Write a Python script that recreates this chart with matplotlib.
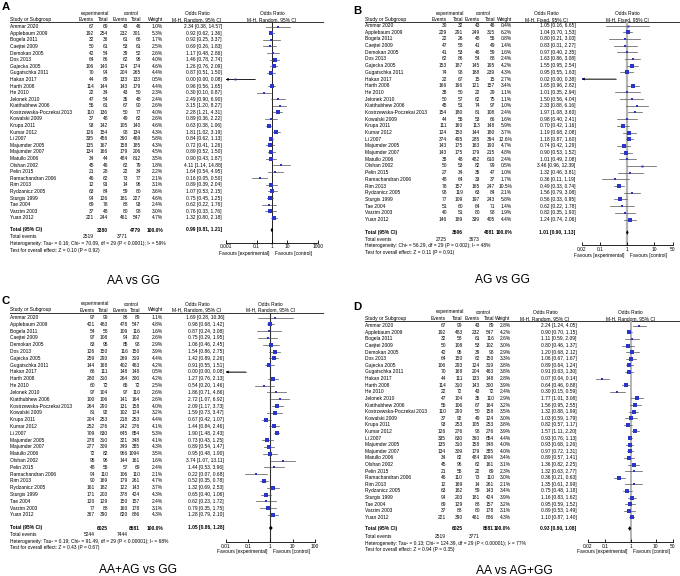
import matplotlib
matplotlib.use('Agg')
import matplotlib.pyplot as plt
from matplotlib import font_manager
from matplotlib.ticker import NullLocator
import numpy as np

W, H = 680, 576

# pick a narrow Arial-like face if there is one (the reference text is tall and narrow)
try:
    font_manager.findfont('Liberation Sans Narrow', fallback_to_default=False)
    FONT, K = 'Liberation Sans Narrow', 1.0
except ValueError:
    FONT, K = 'Liberation Sans', 0.82
plt.rcParams['font.family'] = [FONT, 'Liberation Sans', 'DejaVu Sans']

FS = 4.3 * K        # table text
FS_TITLE = 10.5 * K
FS_LETTER = 10 * K

studies = ['Ammar 2020', 'Applebaum 2009', 'Bogela 2011', 'Caejtei 2009', 'Demokan 2005',
           'Dos 2013', 'Gajecka 2005', 'Gugatschka 2011', 'Hakan 2017', 'Harth 2008',
           'He 2010', 'Jelonek 2010', 'Kiatthubhew 2006', 'Kostrzewska-Poczekai 2013',
           'Kowalski 2009', 'Krupa 2011', 'Kumar 2012', 'Li 2007', 'Majumder 2005',
           'Majumder 2007', 'Matullo 2006', 'Olshan 2002', 'Pelin 2015', 'Ramachandran 2006',
           'Rim 2013', 'Rydzanicz 2005', 'Sturgis 1999', 'Tae 2004', 'Varzim 2003', 'Yuan 2012']

# ---- A: AA vs GG ----
a_exp_ev = [67, 192, 32, 50, 42, 64, 106, 70, 44, 114, 22, 47, 55, 110, 37, 93, 126, 335, 135, 134, 34, 45, 21, 46, 12, 63, 94, 69, 37, 221]
a_exp_tot = [69, 254, 36, 61, 54, 86, 140, 94, 89, 144, 34, 54, 61, 136, 48, 142, 154, 456, 167, 166, 44, 46, 28, 62, 91, 84, 126, 78, 48, 244]
a_ctl_ev = [43, 232, 61, 53, 39, 62, 124, 204, 133, 143, 43, 35, 67, 50, 49, 105, 98, 360, 158, 179, 484, 62, 22, 73, 14, 59, 181, 88, 80, 461]
a_ctl_tot = [46, 301, 66, 61, 52, 96, 174, 265, 133, 179, 50, 48, 90, 77, 62, 140, 134, 469, 185, 206, 812, 79, 34, 77, 96, 80, 227, 93, 98, 547]
a_weight = [1.0, 5.3, 1.7, 2.5, 2.6, 4.0, 4.6, 4.4, 0.5, 4.4, 2.3, 2.4, 2.6, 4.0, 2.6, 4.6, 4.3, 5.8, 4.3, 4.5, 3.5, 1.8, 2.2, 2.1, 3.1, 3.6, 4.6, 2.4, 3.0, 4.7]
a_or = [2.34, 0.92, 0.92, 0.69, 1.17, 1.46, 1.26, 0.87, 0.004, 0.96, 0.30, 2.49, 3.15, 2.28, 0.89, 0.63, 1.81, 0.84, 0.72, 0.89, 0.90, 4.11, 1.64, 0.16, 0.89, 1.07, 0.75, 0.62, 0.76, 1.32]
a_lo = [0.38, 0.62, 0.25, 0.26, 0.48, 0.78, 0.76, 0.51, 0.0002, 0.56, 0.10, 0.90, 1.20, 1.21, 0.36, 0.38, 1.02, 0.62, 0.41, 0.52, 0.43, 1.14, 0.54, 0.05, 0.39, 0.53, 0.45, 0.22, 0.33, 0.80]
a_hi = [14.57, 1.36, 3.37, 1.83, 2.86, 2.74, 2.09, 1.50, 0.08, 1.65, 0.87, 6.90, 8.27, 4.31, 2.22, 1.06, 3.19, 1.13, 1.26, 1.50, 1.87, 14.88, 4.95, 0.50, 2.04, 2.15, 1.25, 1.76, 1.76, 2.18]
a_total = [3380, 4779]
a_events = [2519, 3771]
a_pooled = [0.99, 0.81, 1.21]
a_notes = ['Heterogeneity: Tau\u00b2 = 0.16; Chi\u00b2 = 70.09, df = 29 (P < 0.0001); I\u00b2 = 59%',
           'Test for overall effect: Z = 0.10 (P = 0.92)']

# ---- B: AG vs GG ----
b_exp_ev = [30, 229, 22, 47, 41, 62, 153, 74, 22, 166, 38, 50, 45, 154, 44, 111, 124, 374, 143, 143, 38, 50, 27, 48, 78, 98, 77, 51, 40, 146]
b_exp_tot = [32, 291, 26, 58, 53, 86, 187, 98, 67, 196, 50, 57, 51, 180, 55, 160, 150, 495, 175, 175, 48, 53, 34, 64, 157, 119, 109, 60, 51, 189]
b_ctl_ev = [43, 249, 48, 41, 46, 54, 145, 188, 15, 121, 22, 62, 74, 81, 53, 113, 144, 285, 163, 179, 482, 82, 35, 33, 165, 63, 197, 64, 80, 339]
b_ctl_tot = [46, 315, 55, 49, 59, 88, 195, 239, 15, 157, 29, 75, 97, 108, 66, 148, 180, 394, 190, 215, 610, 99, 47, 37, 247, 84, 243, 71, 98, 405]
b_weight = [0.4, 6.2, 0.8, 1.4, 1.6, 2.4, 4.2, 4.3, 2.7, 3.4, 1.1, 1.1, 1.0, 2.4, 1.6, 5.9, 3.7, 12.6, 4.7, 4.8, 2.4, 0.5, 1.0, 1.7, 10.5, 2.1, 5.8, 1.4, 1.9, 4.4]
b_or = [1.05, 1.04, 0.80, 0.83, 0.97, 1.63, 1.55, 0.95, 0.02, 1.65, 1.01, 1.50, 2.33, 1.97, 0.98, 0.70, 1.19, 1.18, 0.74, 0.90, 1.01, 3.46, 1.32, 0.36, 0.49, 1.56, 0.56, 0.62, 0.82, 1.24]
b_lo = [0.16, 0.70, 0.21, 0.31, 0.40, 0.86, 0.95, 0.55, 0.001, 0.96, 0.35, 0.56, 0.88, 1.08, 0.40, 0.42, 0.68, 0.87, 0.42, 0.53, 0.49, 0.96, 0.46, 0.11, 0.33, 0.79, 0.33, 0.22, 0.35, 0.74]
b_hi = [6.65, 1.53, 3.03, 2.27, 2.35, 3.08, 2.54, 1.63, 0.38, 2.82, 2.94, 4.04, 6.16, 3.60, 2.41, 1.16, 2.08, 1.60, 1.29, 1.52, 2.08, 12.39, 3.81, 1.19, 0.74, 3.08, 0.95, 1.78, 1.90, 2.06]
b_total = [3506, 4681]
b_events = [2725, 3673]
b_pooled = [1.01, 0.90, 1.13]
b_notes = ['Heterogeneity: Chi\u00b2 = 56.29, df = 29 (P = 0.002); I\u00b2 = 48%',
           'Test for overall effect: Z = 0.11 (P = 0.91)']

# ---- C: AA+AG vs GG ----
c_exp_ev = [97, 421, 54, 97, 83, 126, 259, 144, 66, 280, 60, 97, 100, 264, 81, 204, 252, 709, 278, 277, 72, 95, 48, 94, 90, 161, 171, 120, 77, 367]
c_exp_tot = [99, 483, 58, 108, 95, 150, 293, 168, 111, 310, 72, 104, 106, 290, 92, 253, 276, 830, 310, 309, 82, 96, 55, 110, 169, 182, 203, 129, 88, 390]
c_ctl_ev = [86, 478, 109, 94, 85, 116, 269, 402, 148, 264, 65, 97, 141, 131, 102, 218, 242, 645, 321, 349, 966, 144, 57, 106, 179, 122, 378, 150, 160, 820]
c_ctl_tot = [89, 547, 116, 102, 98, 150, 319, 463, 148, 300, 72, 110, 164, 158, 124, 253, 276, 854, 348, 385, 1094, 161, 69, 110, 261, 143, 424, 157, 178, 886]
c_weight = [1.1, 4.8, 1.6, 2.6, 2.9, 3.9, 4.4, 4.2, 0.5, 4.2, 2.5, 2.6, 2.6, 4.0, 3.2, 4.4, 4.1, 5.3, 4.1, 4.3, 3.5, 1.6, 2.4, 2.1, 4.7, 3.7, 4.3, 2.4, 3.1, 4.3]
c_or = [1.69, 0.98, 0.87, 0.75, 1.06, 1.54, 1.42, 0.91, 0.004, 1.27, 0.54, 1.86, 2.72, 2.09, 1.59, 0.67, 1.44, 1.90, 0.73, 0.89, 0.95, 3.74, 1.44, 0.22, 0.52, 1.32, 0.65, 0.62, 0.79, 1.28]
c_lo = [0.28, 0.68, 0.24, 0.29, 0.46, 0.86, 0.89, 0.55, 0.0002, 0.76, 0.20, 0.71, 1.07, 1.17, 0.73, 0.42, 0.84, 1.48, 0.43, 0.54, 0.48, 1.07, 0.53, 0.07, 0.35, 0.69, 0.40, 0.23, 0.35, 0.79]
c_hi = [10.36, 1.42, 3.08, 1.95, 2.45, 2.75, 2.26, 1.51, 0.08, 2.13, 1.46, 4.86, 6.92, 3.73, 3.47, 1.07, 2.46, 2.43, 1.25, 1.47, 1.90, 13.11, 3.96, 0.68, 0.78, 2.53, 1.06, 1.72, 1.75, 2.10]
c_total = [6025, 8581]
c_events = [5244, 7444]
c_pooled = [1.05, 0.86, 1.28]
c_notes = ['Heterogeneity: Tau\u00b2 = 0.19; Chi\u00b2 = 91.49, df = 29 (P < 0.00001); I\u00b2 = 68%',
           'Test for overall effect: Z = 0.43 (P = 0.67)']

# ---- D: AA vs AG+GG ----
d_exp_ev = [67, 192, 32, 50, 42, 64, 106, 70, 44, 114, 22, 47, 55, 110, 37, 93, 126, 335, 135, 134, 34, 45, 21, 46, 12, 63, 94, 69, 37, 221]
d_exp_tot = [99, 483, 58, 108, 95, 150, 293, 168, 111, 310, 72, 104, 106, 290, 92, 253, 276, 830, 310, 309, 82, 96, 55, 110, 169, 182, 203, 129, 88, 390]
d_ctl_ev = [43, 232, 61, 53, 39, 62, 124, 204, 133, 143, 43, 35, 67, 50, 49, 105, 98, 360, 158, 179, 484, 62, 22, 73, 14, 59, 181, 88, 80, 461]
d_ctl_tot = [89, 547, 116, 102, 98, 150, 319, 463, 148, 300, 72, 110, 164, 158, 124, 253, 276, 854, 348, 385, 1094, 161, 69, 110, 261, 143, 424, 157, 178, 886]
d_weight = [2.8, 4.2, 2.6, 3.0, 2.9, 3.3, 3.8, 3.8, 2.8, 3.9, 2.4, 2.9, 3.2, 3.5, 3.0, 3.8, 3.9, 4.4, 4.0, 4.0, 3.4, 3.1, 2.3, 3.0, 2.1, 3.4, 3.9, 3.2, 3.1, 4.3]
d_or = [2.24, 0.90, 1.11, 0.80, 1.20, 1.06, 0.89, 0.91, 0.07, 0.64, 0.30, 1.77, 1.56, 1.32, 1.03, 0.82, 1.57, 0.93, 0.93, 0.97, 0.89, 1.36, 1.32, 0.36, 1.35, 0.75, 1.16, 0.95, 0.89, 1.10]
d_lo = [1.24, 0.70, 0.59, 0.46, 0.68, 0.67, 0.64, 0.63, 0.04, 0.46, 0.15, 1.01, 0.95, 0.88, 0.59, 0.57, 1.11, 0.76, 0.68, 0.72, 0.57, 0.82, 0.63, 0.21, 0.61, 0.48, 0.83, 0.59, 0.53, 0.87]
d_hi = [4.05, 1.15, 2.09, 1.37, 2.12, 1.67, 1.24, 1.30, 0.14, 0.88, 0.59, 3.08, 2.55, 1.99, 1.79, 1.17, 2.20, 1.13, 1.26, 1.31, 1.41, 2.25, 2.77, 0.63, 2.99, 1.18, 1.62, 1.52, 1.49, 1.40]
d_total = [6025, 8581]
d_events = [2519, 3771]
d_pooled = [0.93, 0.80, 1.08]
d_notes = ['Heterogeneity: Tau\u00b2 = 0.13; Chi\u00b2 = 124.39, df = 29 (P < 0.00001); I\u00b2 = 77%',
           'Test for overall effect: Z = 0.94 (P = 0.35)']

# ---- layout (pixels from the top-left corner of the figure) ----
lay_a = dict(x0=0, letter='A', lx=2, ly=7.5, h1=13.3, h2=19.3, uline=22, row0=26.7, dy=6.59,
             total=230, events=237, het=243.7, test=250.3, axis=242.7, tick=248, fav=254,
             title='AA vs GG', tx=133, ty=281, method='M-H, Random, 95% CI',
             study=10, ee=94, et=108, ce=128, ct=141, w=163, orr=222, exp_c=95, ctl_c=131, orh=197,
             ax_l=225.7, ax_r=318.3, uline_r=323, xlim=(0.001, 1000),
             ticks=[0.001, 0.1, 1, 10, 1000], ticklabels=['0.001', '0.1', '1', '10', '1000'],
             vcol='#222222', vlw=0.7)
lay_b = dict(x0=340, letter='B', lx=13, ly=11, h1=13.3, h2=19.3, uline=21.7, row0=25.5, dy=6.69,
             total=232.5, events=239.3, het=246, test=252.7, axis=245, tick=250, fav=256,
             title='AG vs GG', tx=162, ty=280, method='M-H, Fixed, 95% CI',
             study=25, ee=107, et=123, ce=140, ct=155, w=172, orr=235.7, exp_c=110, ctl_c=143, orh=206,
             ax_l=241.7, ax_r=332.7, uline_r=340, xlim=(0.02, 50),
             ticks=[0.02, 0.1, 1, 10, 50], ticklabels=['0.02', '0.1', '1', '10', '50'],
             vcol='#b4b4b4', vlw=1.6)
lay_c = dict(x0=0, letter='C', lx=2, ly=300.5, h1=304, h2=310, uline=312.5, row0=317.5, dy=6.81,
             total=528, events=534.7, het=541.3, test=548, axis=542, tick=546.5, fav=551.5,
             title='AA+AG vs GG', tx=138, ty=570, method='M-H, Random, 95% CI',
             study=9.5, ee=95, et=108, ce=128, ct=140, w=163, orr=224, exp_c=95, ctl_c=131, orh=197,
             ax_l=225.7, ax_r=315, uline_r=323, xlim=(0.01, 100),
             ticks=[0.01, 0.1, 1, 10, 100], ticklabels=['0.01', '0.1', '1', '10', '100'],
             vcol='#333333', vlw=0.8)
lay_d = dict(x0=340, letter='D', lx=13, ly=307, h1=312, h2=318.5, uline=320.7, row0=325.7, dy=6.61,
             total=528.5, events=536.3, het=543, test=549.7, axis=542, tick=546.3, fav=551.3,
             title='AA vs AG+GG', tx=174, ty=571.5, method='M-H, Random, 95% CI',
             study=25, ee=106, et=122.7, ce=140, ct=154, w=170.7, orr=236.7, exp_c=110, ctl_c=143, orh=205,
             ax_l=248, ax_r=333, uline_r=340, xlim=(0.02, 50),
             ticks=[0.02, 0.1, 1, 10, 50], ticklabels=['0.02', '0.1', '1', '10', '50'],
             vcol='#b4b4b4', vlw=1.4)

BLUE = '#2b36c9'
LINE = '#505050'

fig = plt.figure(figsize=(W / 100, H / 100), dpi=100)
bg = fig.add_axes([0, 0, 1, 1])
bg.set_xlim(0, W)
bg.set_ylim(H, 0)
bg.axis('off')


def fmt_ci(o, l, h):
    return f'{o:.2f} [{l:.2f}, {h:.2f}]'


def draw_panel(L, exp_ev, exp_tot, ctl_ev, ctl_tot, weight, ors, lo, hi, total, events, pooled, notes):
    x0 = L['x0']
    t = lambda x, y, s, **kw: bg.text(x0 + x, y, s, fontsize=kw.pop('fs', FS), va='center', **kw)

    t(L['lx'], L['ly'], L['letter'], fs=FS_LETTER, fontweight='bold', ha='left')
    # header
    t(L['exp_c'], L['h1'], 'experimental', ha='center')
    t(L['ctl_c'], L['h1'], 'control', ha='center')
    t(L['orh'], L['h1'], 'Odds Ratio', ha='center')
    t(L['study'], L['h2'], 'Study or Subgroup', ha='left')
    t(L['ee'], L['h2'], 'Events', ha='right')
    t(L['et'], L['h2'], 'Total', ha='right')
    t(L['ce'], L['h2'], 'Events', ha='right')
    t(L['ct'], L['h2'], 'Total', ha='right')
    t(L['w'], L['h2'], 'Weight', ha='right')
    t(L['orh'], L['h2'], L['method'], ha='center')
    bg.plot([x0 + L['study'], x0 + L['uline_r']], [L['uline'], L['uline']], color='#333333', lw=0.7)

    ys = L['row0'] + L['dy'] * np.arange(len(studies))
    for i, y in enumerate(ys):
        t(L['study'], y, studies[i], ha='left')
        t(L['ee'], y, str(exp_ev[i]), ha='right')
        t(L['et'], y, str(exp_tot[i]), ha='right')
        t(L['ce'], y, str(ctl_ev[i]), ha='right')
        t(L['ct'], y, str(ctl_tot[i]), ha='right')
        t(L['w'], y, f'{weight[i]:.1f}%', ha='right')
        t(L['orr'], y, fmt_ci(ors[i], lo[i], hi[i]), ha='right')

    # totals and footnotes
    t(L['study'], L['total'], 'Total (95% CI)', ha='left', fontweight='bold')
    t(L['et'], L['total'], str(total[0]), ha='right', fontweight='bold')
    t(L['ct'], L['total'], str(total[1]), ha='right', fontweight='bold')
    t(L['w'], L['total'], '100.0%', ha='right', fontweight='bold')
    t(L['orr'], L['total'], fmt_ci(*pooled), ha='right', fontweight='bold')
    t(L['study'], L['events'], 'Total events', ha='left')
    t(L['ee'], L['events'], str(events[0]), ha='right')
    t(L['ce'], L['events'], str(events[1]), ha='right')
    t(L['study'], L['het'], notes[0], ha='left')
    t(L['study'], L['test'], notes[1], ha='left')
    t(L['tx'], L['ty'], L['title'], fs=FS_TITLE, ha='center')

    # forest plot on a log axis
    fax = fig.add_axes([(x0 + L['ax_l']) / W, 0, (L['ax_r'] - L['ax_l']) / W, 1])
    fax.set_facecolor('none')
    fax.set_xscale('log')
    xmin, xmax = L['xlim']
    fax.set_xlim(xmin, xmax)
    fax.set_ylim(H, 0)
    for s in ['top', 'left', 'right']:
        fax.spines[s].set_visible(False)
    fax.spines['bottom'].set_position(('data', L['axis']))
    fax.spines['bottom'].set_linewidth(0.6)
    fax.set_yticks([])
    fax.xaxis.set_minor_locator(NullLocator())
    fax.set_xticks(L['ticks'])
    fax.set_xticklabels(L['ticklabels'])
    fax.tick_params(axis='x', direction='in', length=2.5, width=0.6, labelsize=FS, pad=1.2)

    fax.vlines(1, L['uline'], L['axis'], color=L['vcol'], lw=L['vlw'], zorder=1)
    fax.text(1, L['h1'], 'Odds Ratio', fontsize=FS, ha='center', va='center')
    fax.text(1, L['h2'], L['method'], fontsize=FS, ha='center', va='center')
    fax.annotate('Favours [experimental]', xy=(1, L['fav']), xytext=(-2, 0), textcoords='offset points',
                 fontsize=FS, ha='right', va='center', annotation_clip=False)
    fax.annotate('Favours [control]', xy=(1, L['fav']), xytext=(2, 0), textcoords='offset points',
                 fontsize=FS, ha='left', va='center', annotation_clip=False)

    for i, y in enumerate(ys):
        l_c, h_c = max(lo[i], xmin), min(hi[i], xmax)
        fax.plot([l_c, h_c], [y, y], color=LINE, lw=0.5, zorder=2)
        if lo[i] < xmin:
            fax.annotate('', xy=(xmin, y), xytext=(h_c, y),
                         arrowprops=dict(arrowstyle='-|>', color='black', lw=0.5, mutation_scale=3.5,
                                         shrinkA=0, shrinkB=0))
        if hi[i] > xmax:
            fax.annotate('', xy=(xmax, y), xytext=(l_c, y),
                         arrowprops=dict(arrowstyle='-|>', color='black', lw=0.5, mutation_scale=3.5,
                                         shrinkA=0, shrinkB=0))
        if xmin <= ors[i] <= xmax:
            fax.plot(ors[i], y, 's', color=BLUE, ms=0.75 * np.sqrt(weight[i]) + 0.9, mew=0, zorder=3)

    est, plo, phi = pooled
    yt = L['total']
    fax.fill([plo, est, phi, est], [yt, yt - 2.3, yt, yt + 2.3], color='black', lw=0, zorder=3)


draw_panel(lay_a, a_exp_ev, a_exp_tot, a_ctl_ev, a_ctl_tot, a_weight, a_or, a_lo, a_hi, a_total, a_events, a_pooled, a_notes)
draw_panel(lay_b, b_exp_ev, b_exp_tot, b_ctl_ev, b_ctl_tot, b_weight, b_or, b_lo, b_hi, b_total, b_events, b_pooled, b_notes)
draw_panel(lay_c, c_exp_ev, c_exp_tot, c_ctl_ev, c_ctl_tot, c_weight, c_or, c_lo, c_hi, c_total, c_events, c_pooled, c_notes)
draw_panel(lay_d, d_exp_ev, d_exp_tot, d_ctl_ev, d_ctl_tot, d_weight, d_or, d_lo, d_hi, d_total, d_events, d_pooled, d_notes)

fig.savefig('out.png', dpi=100, facecolor='white')
